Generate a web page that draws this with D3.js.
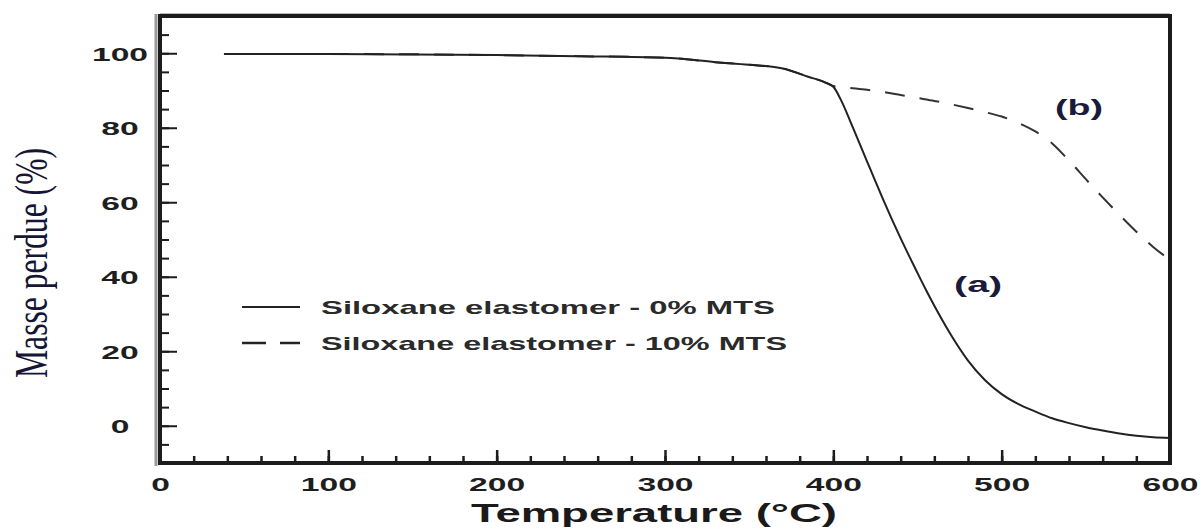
<!DOCTYPE html>
<html>
<head>
<meta charset="utf-8">
<script src="https://cdn.jsdelivr.net/npm/d3@7"></script>
<style>
  body { margin: 0; background: #fff; }
  svg { display: block; }
</style>
</head>
<body>
<svg id="chart" width="1202" height="530"></svg>
<script>

// series (a) : 0% MTS, solid
var temps_a = [38, 100, 200, 250, 300, 330, 350, 370, 385, 395, 400, 405, 410, 415, 420, 425, 430, 435, 440, 445, 450, 455, 460, 470, 480, 490, 500, 510, 520, 530, 540, 550, 560, 570, 580, 590, 600];
var mass_a  = [99.8, 99.8, 99.5, 99.2, 98.8, 97.6, 96.9, 95.9, 93.7, 92.2, 91, 87, 81.8, 76.4, 71, 65.6, 60.3, 55.2, 50.3, 45.6, 41, 36.5, 32.2, 24.3, 17.5, 12.3, 8.5, 5.8, 3.8, 2, 0.7, -0.4, -1.3, -2.1, -2.7, -3.1, -3.3];

// series (b) : 10% MTS, dashed
var temps_b = [38, 100, 200, 250, 300, 330, 350, 370, 385, 395, 400, 410, 420, 430, 440, 450, 460, 470, 480, 490, 500, 510, 520, 530, 540, 550, 560, 570, 580, 590, 600];
var mass_b  = [99.8, 99.8, 99.5, 99.2, 98.8, 97.6, 96.9, 95.9, 93.7, 92.2, 91.2, 90.7, 90.2, 89.6, 88.8, 88, 87.2, 86.3, 85.3, 84.2, 83, 81.3, 79, 75.8, 71.2, 66.2, 61.3, 56.6, 52.1, 48, 44.5];

var xTicks = [0, 100, 200, 300, 400, 500, 600];
var xMinor = d3.range(0, 601, 20);
var yTicks = [0, 20, 40, 60, 80, 100];
var yMinor = d3.range(-5, 110, 5);

var legendLabels = ["Siloxane elastomer - 0% MTS", "Siloxane elastomer - 10% MTS"];
var curveLabels = ["(a)", "(b)"];

var svg = d3.select("#chart");
var margin = {top: 16, right: 32, bottom: 67, left: 160};
var width = +svg.attr("width") - margin.left - margin.right,
    height = +svg.attr("height") - margin.top - margin.bottom;

var xscale = d3.scaleLinear().domain([0, 600]).range([0, width]);
var yscale = d3.scaleLinear().domain([-10, 110]).range([height, 0]);

var g = svg.append("g")
    .attr("transform", "translate(" + margin.left + "," + margin.top + ")");

//grey shadow of the left and top border
g.append("line")
    .attr("x1", -4).attr("x2", -4).attr("y1", -2).attr("y2", height + 3)
    .attr("stroke", "#9a9a9a").attr("stroke-width", 3);
g.append("line")
    .attr("x1", 0).attr("x2", width).attr("y1", -1).attr("y2", -1)
    .attr("stroke", "#777").attr("stroke-width", 3);

//frame
g.append("rect")
    .attr("x", 0).attr("y", 0)
    .attr("width", width).attr("height", height)
    .attr("fill", "none")
    .attr("stroke", "#1c1c1c")
    .attr("stroke-width", 4);

//x axis (ticks pointing in)
var xaxis = g.append("g")
    .attr("class", "axis axis--x")
    .attr("transform", "translate(0," + height + ")");
xaxis.call(d3.axisBottom(xscale).tickValues(xMinor).tickSize(-7).tickFormat(""));
xaxis.append("g")
    .call(d3.axisBottom(xscale).tickValues(xTicks).tickSize(-13).tickFormat(d3.format("d")));
xaxis.selectAll(".domain").remove();
xaxis.selectAll(".tick line").attr("stroke", "#1c1c1c").attr("stroke-width", 2.5);
xaxis.selectAll(".tick text")
    .attr("y", 28)
    .attr("dy", 0)
    .attr("fill", "#1e1e1e")
    .style("font-family", "'Liberation Sans', Arial, sans-serif")
    .style("font-weight", "bold")
    .style("font-size", "19px")
    .attr("textLength", function(d) { return String(d).length * 18.7; })
    .attr("lengthAdjust", "spacingAndGlyphs");

//y axis (ticks pointing in)
var yaxis = g.append("g")
    .attr("class", "axis axis--y");
yaxis.call(d3.axisLeft(yscale).tickValues(yMinor).tickSize(-9).tickFormat(""));
yaxis.append("g")
    .call(d3.axisLeft(yscale).tickValues(yTicks).tickSize(-17).tickFormat(d3.format("d")));
yaxis.selectAll(".domain").remove();
yaxis.selectAll(".tick line").attr("stroke", "#1c1c1c").attr("stroke-width", 2);
yaxis.selectAll(".tick text")
    .attr("x", -40)
    .attr("dy", "0.36em")
    .attr("text-anchor", "middle")
    .attr("fill", "#1e1e1e")
    .style("font-family", "'Liberation Sans', Arial, sans-serif")
    .style("font-weight", "bold")
    .style("font-size", "19px")
    .attr("textLength", function(d) { return String(d).length * 18.7; })
    .attr("lengthAdjust", "spacingAndGlyphs");

//curves
var lineFunction = d3.line()
    .x(function(d) { return xscale(d[0]); })
    .y(function(d) { return yscale(d[1]); })
    .curve(d3.curveMonotoneX);

g.append("path")
    .datum(d3.zip(temps_b, mass_b))
    .attr("d", lineFunction)
    .attr("fill", "none")
    .attr("stroke", "#333")
    .attr("stroke-width", 2)
    .attr("stroke-dasharray", "20,15")
    .classed("graph_path", true);

g.append("path")
    .datum(d3.zip(temps_a, mass_a))
    .attr("d", lineFunction)
    .attr("fill", "none")
    .attr("stroke", "#222")
    .attr("stroke-width", 2)
    .classed("graph_path", true);

//curve labels
var labelPos = [[486, 38], [546, 85.5]];
g.selectAll("text.curvelabel")
    .data(curveLabels)
    .enter()
    .append("text")
    .attr("class", "curvelabel")
    .attr("x", function(d, i) { return xscale(labelPos[i][0]); })
    .attr("y", function(d, i) { return yscale(labelPos[i][1]); })
    .attr("dy", "0.35em")
    .attr("text-anchor", "middle")
    .attr("fill", "#1a1a3a")
    .style("font-family", "'Liberation Sans', Arial, sans-serif")
    .style("font-weight", "bold")
    .style("font-size", "22px")
    .attr("textLength", 48)
    .attr("lengthAdjust", "spacingAndGlyphs")
    .text(function(d) { return d; });

//legend
var legend = g.append("g")
    .attr("transform", "translate(" + (242 - margin.left) + "," + (307 - margin.top) + ")");
var lg = legend.selectAll("g")
    .data(legendLabels)
    .enter()
    .append("g")
    .attr("transform", function(d, i) { return "translate(0," + (i * 36) + ")"; });
lg.append("line")
    .attr("x1", 0).attr("x2", 58)
    .attr("y1", 0).attr("y2", 0)
    .attr("stroke", "#222")
    .attr("stroke-width", function(d, i) { return i ? 2.5 : 1.8; })
    .attr("stroke-dasharray", function(d, i) { return i ? "24,14" : null; });
lg.append("text")
    .attr("x", 79)
    .attr("dy", "0.35em")
    .attr("fill", "#2a2a2a")
    .style("font-family", "'Liberation Sans', Arial, sans-serif")
    .style("font-weight", "bold")
    .style("font-size", "19px")
    .attr("textLength", function(d, i) { return i ? 466 : 454; })
    .attr("lengthAdjust", "spacingAndGlyphs")
    .text(function(d) { return d; });

//x axis label
svg.append("text")
    .attr("x", 654)
    .attr("y", 522)
    .attr("text-anchor", "middle")
    .attr("fill", "#1a1a1a")
    .style("font-family", "'Liberation Sans', Arial, sans-serif")
    .style("font-weight", "bold")
    .style("font-size", "26px")
    .attr("textLength", 366)
    .attr("lengthAdjust", "spacingAndGlyphs")
    .text("Temperature (°C)");

//y axis label
svg.append("text")
    .attr("transform", "translate(47,263) rotate(-90)")
    .attr("text-anchor", "middle")
    .attr("fill", "#151535")
    .style("font-family", "'Liberation Serif', 'Times New Roman', serif")
    .style("font-size", "46px")
    .attr("textLength", 230)
    .attr("lengthAdjust", "spacingAndGlyphs")
    .text("Masse perdue (%)");

</script>
</body>
</html>
